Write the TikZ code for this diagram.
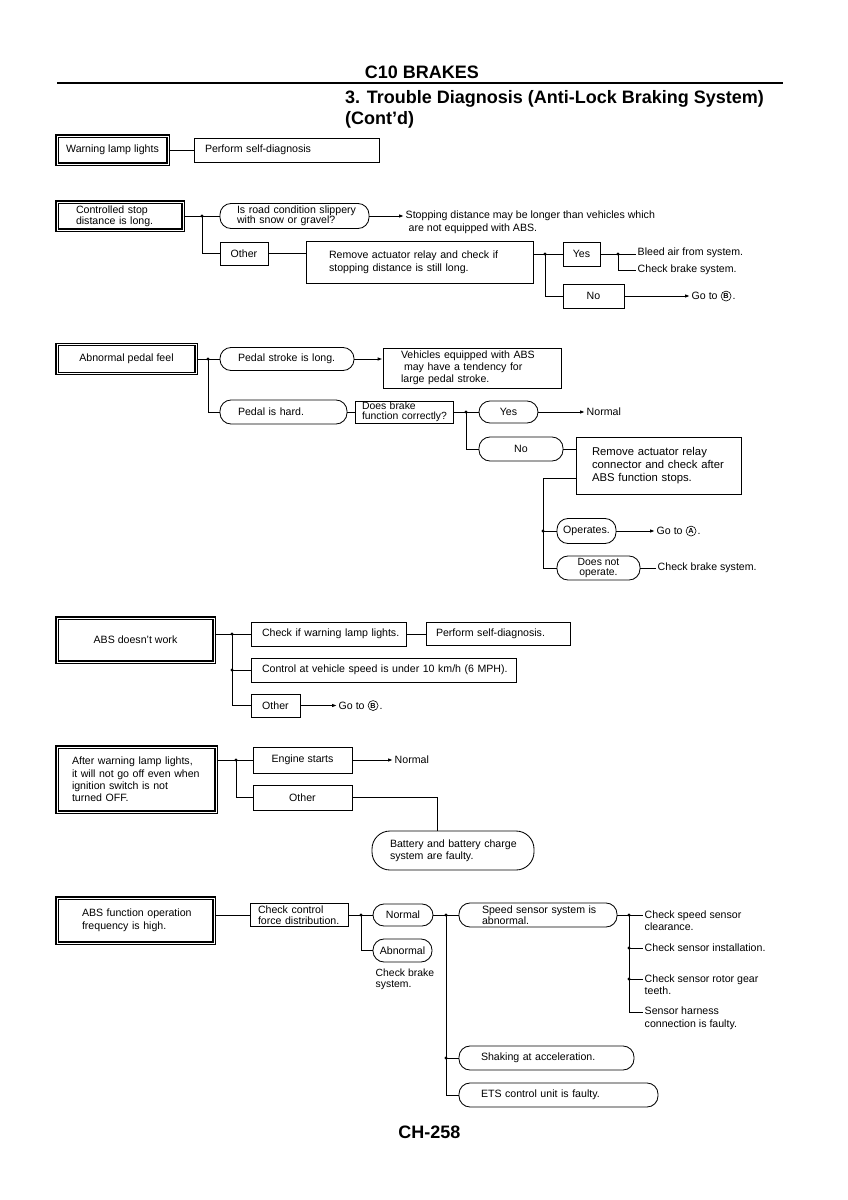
\documentclass[tikz,border=0pt]{standalone}
\usepackage{fontspec}
\usepackage{pict2e}
\setmainfont{Liberation Sans}
\usetikzlibrary{arrows.meta}
\newcommand\ntxt{\fontsize{10.6}{12.5}\selectfont}
\newcommand\mbx[1]{\mbox{#1}}
\newcommand\crc[1]{{\setlength{\unitlength}{1pt}\begin{picture}(12,7)(0,0)\linethickness{0.6pt}\put(5.5,3.6){\circle{10}}\put(5.5,3.6){\makebox(0,0){\fontsize{7.3}{7.3}\selectfont\bfseries #1}}\end{picture}}}
\newcommand\cB{\crc{B}}
\newcommand\cA{\crc{A}}
\begin{document}
\begin{tikzpicture}[x=1pt,y=-1pt,
 box/.style={draw, line width=0.85pt, inner sep=0pt, font=\ntxt},
 rbox/.style={box, rounded corners=11pt},
 sbox/.style={box, line width=1.1pt, double, double distance=0.9pt},
 lbl/.style={inner xsep=1.5pt, inner ysep=0pt, font=\ntxt, align=left},
 conn/.style={line width=1pt},
 arr/.style={conn, -{Latex[length=5pt,width=3.6pt]}},
 hdr/.style={inner sep=0pt, font=\fontsize{18}{21}\selectfont\bfseries, align=left}
]
\useasboundingbox[fill=white] (0,0) rectangle (848,1200);

% header
\node[hdr] (h1) at (422,72) {C10 BRAKES};
\draw[line width=2.8pt] (57,83) -- (783,83);
\node[hdr, anchor=north west] (h2) at (345,90.5) {3. Trouble Diagnosis (Anti-Lock Braking System)};
\node[hdr, anchor=north west] (h3) at (345,111.5) {(Cont’d)};

% block 1
\node[sbox, minimum width=111pt, minimum height=28pt] (wl) at (112.5,150) {Warning lamp lights};
\node[box, minimum width=185pt, minimum height=24pt, text width=163pt, align=left] (psd1) at (286.5,150) {Perform self-diagnosis};
\draw[conn] (wl) -- (psd1);

% block 2
\node[sbox, minimum width=126pt, minimum height=28pt, text width=88pt, align=left, font=\fontsize{10.6}{11}\selectfont] (csd) at (120,216) {\mbx{Controlled stop}\\\mbx{distance is long.}};
\node[rbox, minimum width=149pt, minimum height=25pt, text width=115pt, align=left, font=\fontsize{10.6}{10.5}\selectfont] (road) at (294.5,216) {\mbx{Is road condition slippery}\\\mbx{with snow or gravel?}};
\node[lbl, anchor=north west, font=\fontsize{10.6}{13}\selectfont] (stopt) at (404,211) {Stopping distance may be longer than vehicles which\\\hspace*{3pt}are not equipped with ABS.};
\node[box, minimum width=48pt, minimum height=23pt] (oth1) at (244,253.5) {Other};
\node[box, minimum width=227pt, minimum height=42pt, text width=181pt, align=left, font=\fontsize{10.6}{13}\selectfont] (rem1) at (419.5,262) {\mbx{Remove actuator relay and check if}\\\mbx{stopping distance is still long.}};
\node[box, minimum width=37pt, minimum height=24pt] (yes1) at (581.5,254) {Yes};
\node[box, minimum width=61pt, minimum height=24pt] (no1) at (593.5,296) {No};
\node[lbl, anchor=west] (bleed) at (636,253) {Bleed air from system.};
\node[lbl, anchor=west] (cbs1) at (636,270) {Check brake system.};
\node[lbl, anchor=west] (goB1) at (690,296) {Go to \cB.};
\coordinate (j1) at (202,216);
\coordinate (j2) at (545,254);
\coordinate (j3) at (618,254);
\draw[conn] (csd.east) -- (road.west);
\draw[conn] (j1) |- (oth1.west);
\draw[arr] (road.east) -- (road.east -| stopt.west);
\draw[conn] (oth1.east) -- (oth1.east -| rem1.west);
\draw[conn] (yes1.west -| rem1.east) -- (yes1.west);
\draw[conn] (j2) |- (no1.west);
\draw[conn] (yes1.east) -- (yes1.east -| bleed.west);
\draw[conn] (j3) |- (cbs1.west);
\draw[arr] (no1.east) -- (no1.east -| goB1.west);

% block 3
\node[sbox, minimum width=139pt, minimum height=29pt] (apf) at (126.5,359) {Abnormal pedal feel};
\node[rbox, minimum width=134pt, minimum height=23pt, text width=98pt, align=left] (psl) at (287,359) {\mbx{Pedal stroke is long.}};
\node[box, minimum width=178pt, minimum height=40pt, text width=142pt, align=left, font=\fontsize{10.6}{12}\selectfont] (veh) at (472,368) {\mbx{Vehicles equipped with ABS}\\\mbx{\hspace*{3pt}may have a tendency for}\\\mbx{large pedal stroke.}};
\node[rbox, minimum width=127pt, minimum height=24pt, text width=91pt, align=left] (pih) at (283.5,412) {\mbx{Pedal is hard.}};
\node[box, minimum width=98pt, minimum height=22pt, text width=84pt, align=left, font=\fontsize{10.4}{10.5}\selectfont] (dbf) at (404,412) {\mbx{Does brake}\\\mbx{function correctly?}};
\node[rbox, minimum width=59pt, minimum height=22pt] (yes2) at (508.5,412) {Yes};
\node[lbl, anchor=west] (nrm1) at (585,412) {Normal};
\node[rbox, minimum width=84pt, minimum height=24pt] (no2) at (521,449) {No};
\node[box, minimum width=165pt, minimum height=57pt, text width=133pt, align=left, font=\fontsize{11.3}{13}\selectfont] (rem2) at (658.5,465.5) {\mbx{Remove actuator relay}\\\mbx{connector and check after}\\\mbx{ABS function stops.}};
\node[rbox, minimum width=59pt, minimum height=25pt] (ops) at (586.5,531) {Operates.};
\node[lbl, anchor=west] (goA) at (655,531) {Go to \cA.};
\node[rbox, minimum width=83pt, minimum height=24pt, align=center, font=\fontsize{10.4}{9.5}\selectfont] (dno) at (598.5,568) {Does not\\operate.};
\node[lbl, anchor=west] (cbs2) at (656,568) {Check brake system.};
\coordinate (j4) at (208,359);
\coordinate (j5) at (466,412);
\coordinate (j6) at (543,478);
\draw[conn] (apf.east) -- (psl.west);
\draw[conn] (j4) |- (pih.west);
\draw[arr] (psl.east) -- (psl.east -| veh.west);
\draw[conn] (pih.east) -- (dbf.west);
\draw[conn] (dbf.east) -- (yes2.west);
\draw[conn] (j5) |- (no2.west);
\draw[arr] (yes2.east) -- (nrm1.west);
\draw[conn] (no2.east) -- (no2.east -| rem2.west);
\draw[conn] (j6 -| rem2.west) -- (j6) |- (dno.west);
\draw[conn] (j6 |- ops.west) -- (ops.west);
\draw[arr] (ops.east) -- (goA.west);
\draw[conn] (dno.east) -- (cbs2.west);

% block 4
\node[sbox, minimum width=157pt, minimum height=44pt] (adw) at (135.5,640) {ABS doesn’t work};
\node[box, minimum width=155pt, minimum height=24pt, text width=133pt, align=left] (cwl) at (328.5,634) {\mbx{Check if warning lamp lights.}};
\node[box, minimum width=144pt, minimum height=23pt, text width=124pt, align=left] (psd2) at (498,634) {\mbx{Perform self-diagnosis.}};
\node[box, minimum width=265pt, minimum height=24pt, text width=243pt, align=left] (ctl) at (383.5,670) {\mbx{Control at vehicle speed is under 10 km/h (6 MPH).}};
\node[box, minimum width=49pt, minimum height=23pt] (oth2) at (275.5,705.5) {Other};
\node[lbl, anchor=west] (goB2) at (337,705.5) {Go to \cB.};
\coordinate (j7) at (232,634);
\draw[conn] (adw.east |- cwl.west) -- (cwl.west);
\draw[conn] (j7) |- (oth2.west);
\draw[conn] (j7 |- ctl.west) -- (ctl.west);
\draw[conn] (cwl) -- (psd2);
\draw[arr] (oth2.east) -- (goB2.west);

% block 5
\node[sbox, minimum width=159pt, minimum height=65pt, text width=129pt, align=left, font=\fontsize{10.6}{12.3}\selectfont] (awl) at (136.5,779.5) {\mbx{After warning lamp lights,}\\\mbx{it will not go off even when}\\\mbx{ignition switch is not}\\\mbx{turned OFF.}};
\node[box, minimum width=99pt, minimum height=26pt] (es) at (302.5,760) {Engine starts};
\node[lbl, anchor=west] (nrm2) at (393,760) {Normal};
\node[box, minimum width=99pt, minimum height=25pt] (oth3) at (302.5,797.5) {Other};
\node[rbox, rounded corners=18pt, minimum width=162pt, minimum height=39pt, text width=126pt, align=left, font=\fontsize{10.6}{12}\selectfont] (bat) at (453,850.5) {\mbx{Battery and battery charge}\\\mbx{system are faulty.}};
\coordinate (j8) at (236,760);
\coordinate (c2) at (437,797.5);
\draw[conn] (awl.east |- es.west) -- (es.west);
\draw[conn] (j8) |- (oth3.west);
\draw[arr] (es.east) -- (nrm2.west);
\draw[conn] (oth3.east) -- (c2) -- (c2 |- bat.north);

% block 6
\node[sbox, minimum width=157pt, minimum height=45pt, text width=107pt, align=left, font=\fontsize{10.6}{13}\selectfont] (afo) at (135.5,920.5) {\mbx{ABS function operation}\\\mbx{frequency is high.}};
\node[box, minimum width=98pt, minimum height=23pt, text width=82pt, align=left, font=\fontsize{10.6}{10.5}\selectfont] (ccf) at (299,915) {\mbx{Check control}\\\mbx{force distribution.}};
\node[rbox, minimum width=60pt, minimum height=22pt] (nor) at (403,915) {Normal};
\node[rbox, minimum width=59pt, minimum height=23pt] (abn) at (402.5,950.5) {Abnormal};
\node[lbl, anchor=north west, font=\fontsize{10.4}{11}\selectfont] (cbs3) at (374,969) {Check brake\\system.};
\node[rbox, minimum width=158pt, minimum height=24pt, text width=112pt, align=left, font=\fontsize{10.6}{11.5}\selectfont] (ssa) at (538,915) {\mbx{Speed sensor system is}\\\mbx{abnormal.}};
\node[lbl, anchor=north west, font=\fontsize{10.6}{12}\selectfont] (t1) at (643,911) {Check speed sensor\\clearance.};
\node[lbl, anchor=west] (t2) at (643,948) {Check sensor installation.};
\node[lbl, anchor=north west, font=\fontsize{10.6}{11.5}\selectfont] (t3) at (643,975) {Check sensor rotor gear\\teeth.};
\node[lbl, anchor=north west, font=\fontsize{10.6}{13}\selectfont] (t4) at (643,1007) {Sensor harness\\connection is faulty.};
\node[rbox, minimum width=175pt, minimum height=24pt, text width=131pt, align=left] (shk) at (546.5,1058) {\mbx{Shaking at acceleration.}};
\node[rbox, minimum width=199pt, minimum height=24pt, text width=155pt, align=left] (ets) at (558.5,1095) {\mbx{ETS control unit is faulty.}};
\coordinate (j9) at (361,915);
\coordinate (j10) at (446,915);
\coordinate (j11) at (629,915);
\coordinate (k3) at (629,979);
\coordinate (k4) at (629,1012);
\draw[conn] (afo.east |- ccf.west) -- (ccf.west);
\draw[conn] (ccf.east) -- (nor.west);
\draw[conn] (j9) |- (abn.west);
\draw[conn] (nor.east) -- (ssa.west);
\draw[conn] (j10) |- (ets.west);
\draw[conn] (j10 |- shk.west) -- (shk.west);
\draw[conn] (ssa.east) -- (ssa.east -| t1.west);
\draw[conn] (j11) -- (k4) -- (k4 -| t4.west);
\draw[conn] (j11 |- t2.west) -- (t2.west);
\draw[conn] (k3) -- (k3 -| t3.west);

% junction dots
\foreach \p in {j1,j2,j3,j4,j5,j7,j8,j9,j10,j11,k3}
  \fill (\p) circle (1.7pt);
\fill (j6 |- ops.west) circle (1.7pt);
\fill (j7 |- ctl.west) circle (1.7pt);
\fill (j10 |- shk.west) circle (1.7pt);
\fill (j11 |- t2.west) circle (1.7pt);

% footer
\node[hdr] (pg) at (429.5,1132) {CH-258};
\end{tikzpicture}
\end{document}
